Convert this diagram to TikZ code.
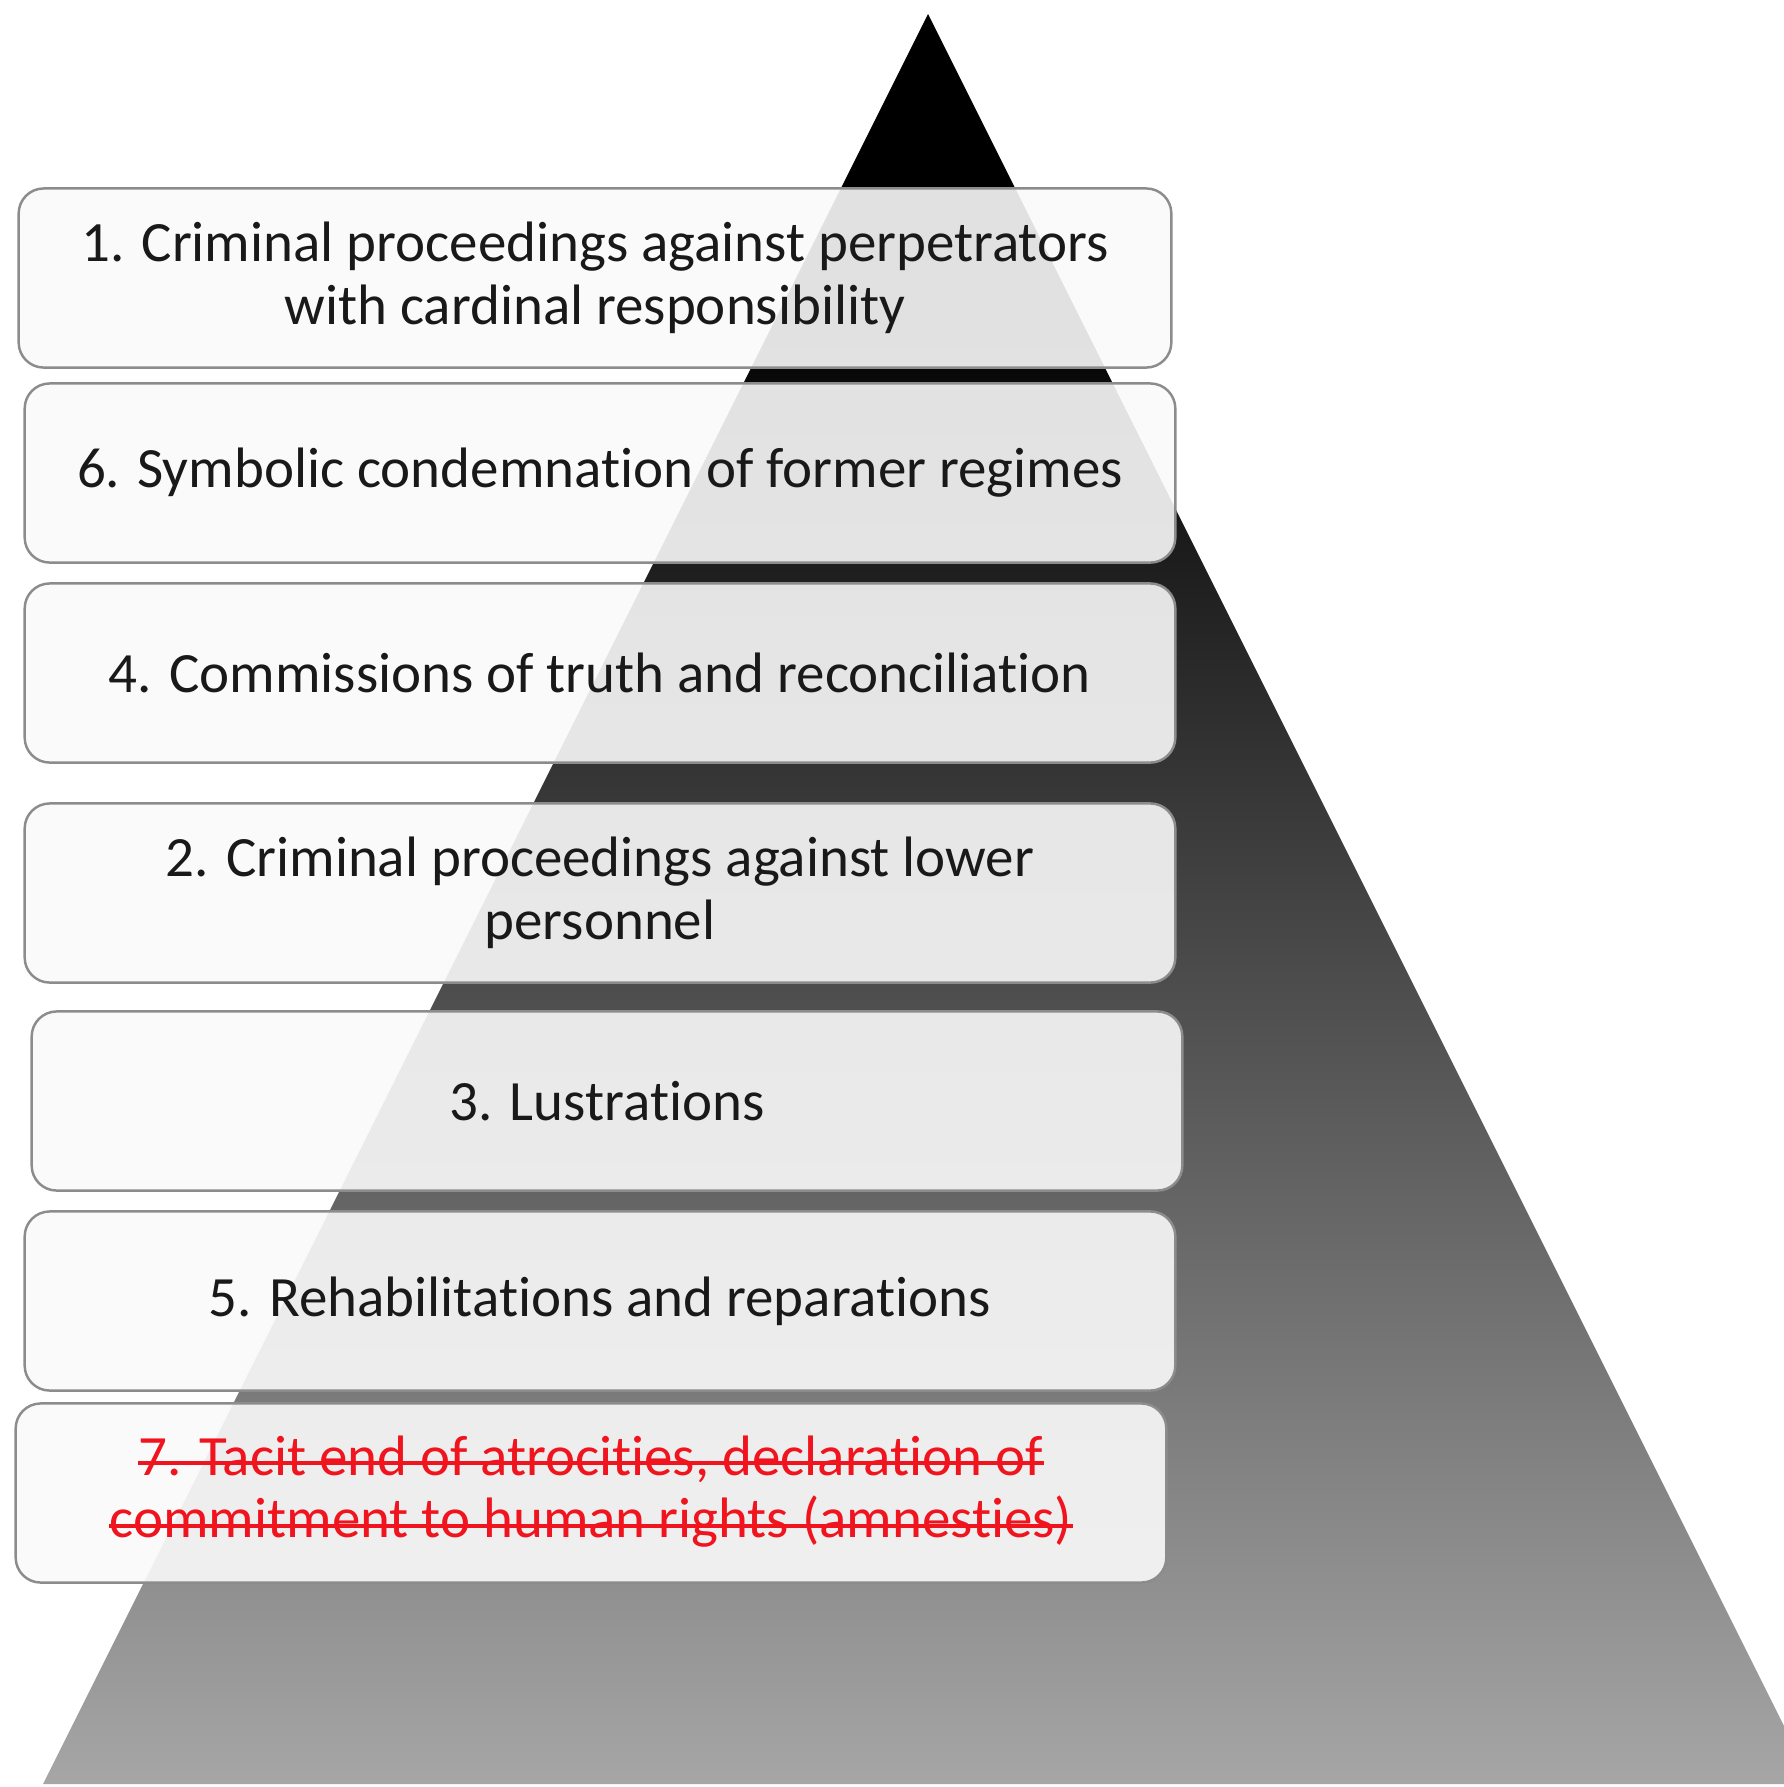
\documentclass[tikz,border=0pt]{standalone}
\usepackage{fontspec}
\setmainfont{Carlito}[Ligatures=NoCommon]

\definecolor{pyrgray}{RGB}{166,166,166}
\definecolor{boxline}{RGB}{140,140,140}
\definecolor{boxfill}{RGB}{250,250,250}
\definecolor{struck}{RGB}{240,20,30}

\pgfdeclareverticalshading{pyrshade}{100bp}{color(0bp)=(pyrgray); color(25bp)=(pyrgray); color(67bp)=(black); color(100bp)=(black)}

\begin{document}
\begin{tikzpicture}[x=0.01cm, y=-0.01cm,
        level/.style={draw=boxline, line width=0.7pt, fill=boxfill, fill opacity=0.9, text opacity=1,
            rounded corners=0.25cm, minimum width=11.5cm, minimum height=1.79cm, align=center,
            text=black!90, font=\fontsize{16.2}{18}\selectfont},
        strikeline/.style={inner sep=0pt, text=struck, font=\fontsize{16.2}{18}\selectfont}]
    \useasboundingbox (0,0) rectangle (1784,1787);
    \begin{scope}
        \clip (0,0) rectangle (1784,1787);
        \shade[shading=pyrshade] (928,14) -- (1813,1784) -- (43,1784) -- cycle;
    \end{scope}
    \node[level, minimum width=11.52cm] (lvlA) at (595,278) {1. Criminal proceedings against perpetrators\\with cardinal responsibility};
    \node[level] (lvlF) at (600,473) {6. Symbolic condemnation of former regimes};
    \node[level] (lvlD) at (600,673) {4. Commissions of truth and reconciliation};
    \node[level] (lvlB) at (600,893) {2. Criminal proceedings against lower\\personnel};
    \node[level] (lvlC) at (607,1101) {3. Lustrations};
    \node[level] (lvlE) at (600,1301) {5. Rehabilitations and reparations};
    \node[level] (lvlG) at (591,1493) {};
    \node[strikeline] (lvlGa) at (591,1459) {7. Tacit end of atrocities, declaration of};
    \node[strikeline] (lvlGb) at (591,1522) {commitment to human rights (amnesties)};
    \draw[struck, line width=1.1pt] ([yshift=3.4pt]lvlGa.base west) -- ([yshift=3.4pt]lvlGa.base east);
    \draw[struck, line width=1.1pt] ([yshift=3.4pt]lvlGb.base west) -- ([yshift=3.4pt]lvlGb.base east);
\end{tikzpicture}
\end{document}
